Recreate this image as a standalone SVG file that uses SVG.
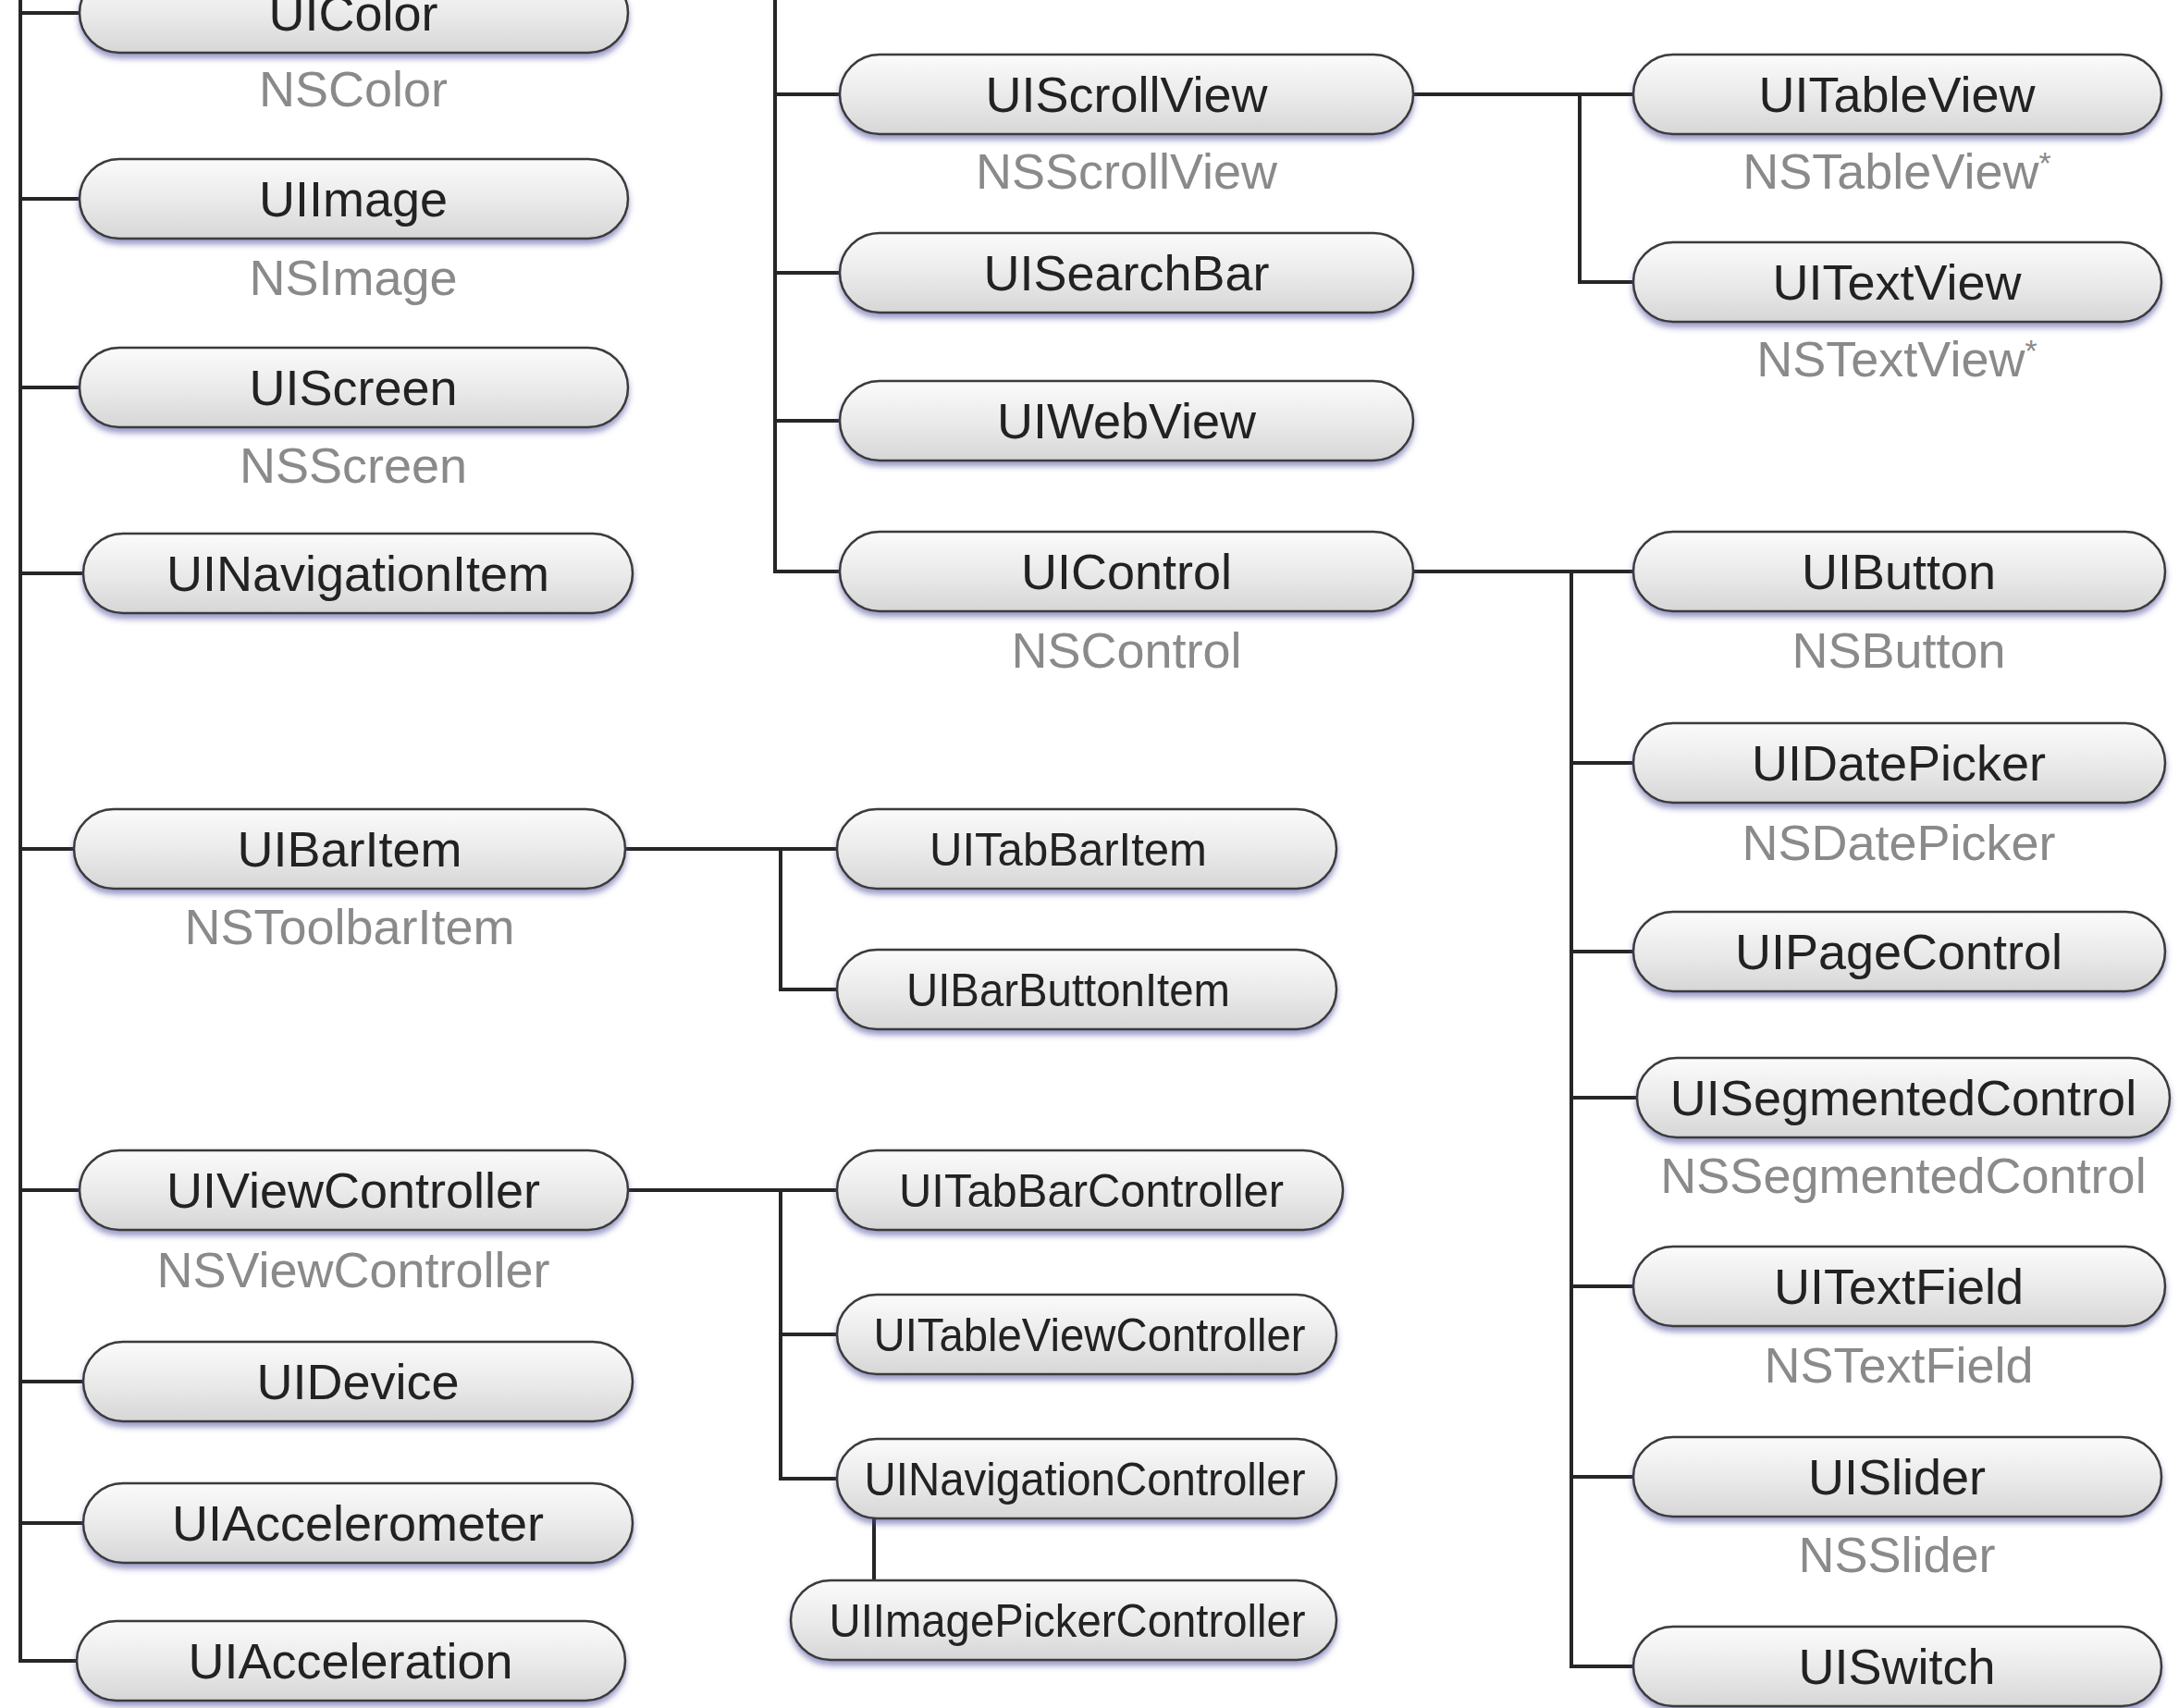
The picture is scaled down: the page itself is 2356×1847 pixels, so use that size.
<svg xmlns="http://www.w3.org/2000/svg" width="2356" height="1847" viewBox="0 0 2356 1847">
  <defs>
    <linearGradient id="pillFill" x1="0" y1="0" x2="0" y2="1">
      <stop offset="0" stop-color="#fbfbfb"/>
      <stop offset="0.55" stop-color="#e9e9e9"/>
      <stop offset="1" stop-color="#d6d6d6"/>
    </linearGradient>
    <filter id="pillShadow" x="-5%" y="-20%" width="110%" height="150%">
      <feDropShadow dx="0" dy="5" stdDeviation="3" flood-color="#4a4a9a" flood-opacity="0.55"/>
    </filter>
    <style>
      .pill { fill: url(#pillFill); stroke: #3a3a3a; stroke-width: 2.5; filter: url(#pillShadow); }
      .name { font-family: "Liberation Sans", Arial, Helvetica, sans-serif; font-size: 54px; fill: #222222; text-anchor: middle; }
      .small { font-size: 50px; }
      .ns { font-family: "Liberation Sans", Arial, Helvetica, sans-serif; font-size: 54px; fill: #8a8a8a; text-anchor: middle; }
      .star { font-size: 34px; }
      .link { fill: none; stroke: #262626; stroke-width: 4; }
    </style>
  </defs>

  <rect width="2356" height="1847" fill="#ffffff"/>

  <!-- inheritance connectors -->
  <g id="connectors" class="link">
    <path d="M22,0 V1796 H83"/>
    <path d="M22,14 H86"/>
    <path d="M22,215 H86"/>
    <path d="M22,419 H86"/>
    <path d="M22,620 H90"/>
    <path d="M22,918 H80"/>
    <path d="M22,1287 H86"/>
    <path d="M22,1494 H90"/>
    <path d="M22,1647 H90"/>

    <path d="M838,0 V618 H908"/>
    <path d="M838,102 H908"/>
    <path d="M838,295 H908"/>
    <path d="M838,455 H908"/>

    <path d="M1528,102 H1766"/>
    <path d="M1708,102 V305 H1766"/>

    <path d="M1528,618 H1766"/>
    <path d="M1699,618 V1802 H1766"/>
    <path d="M1699,825 H1766"/>
    <path d="M1699,1029 H1766"/>
    <path d="M1699,1187 H1770"/>
    <path d="M1699,1391 H1766"/>
    <path d="M1699,1597 H1766"/>

    <path d="M676,918 H905"/>
    <path d="M844,918 V1070 H905"/>

    <path d="M679,1287 H905"/>
    <path d="M844,1287 V1599 H905"/>
    <path d="M844,1443 H905"/>
    <path d="M945,1642 V1709"/>
  </g>

  <!-- left column -->
  <g id="UIColor">
    <rect class="pill" x="86" y="-29" width="593" height="86" rx="43"/>
    <text class="name" x="382" y="33">UIColor</text>
    <text class="ns" x="382" y="115">NSColor</text>
  </g>
  <g id="UIImage">
    <rect class="pill" x="86" y="172" width="593" height="86" rx="43"/>
    <text class="name" x="382" y="234">UIImage</text>
    <text class="ns" x="382" y="319">NSImage</text>
  </g>
  <g id="UIScreen">
    <rect class="pill" x="86" y="376" width="593" height="86" rx="43"/>
    <text class="name" x="382" y="438">UIScreen</text>
    <text class="ns" x="382" y="522">NSScreen</text>
  </g>
  <g id="UINavigationItem">
    <rect class="pill" x="90" y="577" width="594" height="86" rx="43"/>
    <text class="name" x="387" y="639">UINavigationItem</text>
  </g>
  <g id="UIBarItem">
    <rect class="pill" x="80" y="875" width="596" height="86" rx="43"/>
    <text class="name" x="378" y="937">UIBarItem</text>
    <text class="ns" x="378" y="1021">NSToolbarItem</text>
  </g>
  <g id="UIViewController">
    <rect class="pill" x="86" y="1244" width="593" height="86" rx="43"/>
    <text class="name" x="382" y="1306">UIViewController</text>
    <text class="ns" x="382" y="1392">NSViewController</text>
  </g>
  <g id="UIDevice">
    <rect class="pill" x="90" y="1451" width="594" height="86" rx="43"/>
    <text class="name" x="387" y="1513">UIDevice</text>
  </g>
  <g id="UIAccelerometer">
    <rect class="pill" x="90" y="1604" width="594" height="86" rx="43"/>
    <text class="name" x="387" y="1666">UIAccelerometer</text>
  </g>
  <g id="UIAcceleration">
    <rect class="pill" x="83" y="1753" width="593" height="86" rx="43"/>
    <text class="name" x="379" y="1815">UIAcceleration</text>
  </g>

  <!-- view subclasses -->
  <g id="UIScrollView">
    <rect class="pill" x="908" y="59" width="620" height="86" rx="43"/>
    <text class="name" x="1218" y="121">UIScrollView</text>
    <text class="ns" x="1218" y="204">NSScrollView</text>
  </g>
  <g id="UISearchBar">
    <rect class="pill" x="908" y="252" width="620" height="86" rx="43"/>
    <text class="name" x="1218" y="314">UISearchBar</text>
  </g>
  <g id="UIWebView">
    <rect class="pill" x="908" y="412" width="620" height="86" rx="43"/>
    <text class="name" x="1218" y="474">UIWebView</text>
  </g>
  <g id="UIControl">
    <rect class="pill" x="908" y="575" width="620" height="86" rx="43"/>
    <text class="name" x="1218" y="637">UIControl</text>
    <text class="ns" x="1218" y="722">NSControl</text>
  </g>

  <!-- scroll view subclasses -->
  <g id="UITableView">
    <rect class="pill" x="1766" y="59" width="571" height="86" rx="43"/>
    <text class="name" x="2051" y="121">UITableView</text>
    <text class="ns" x="2051" y="204">NSTableView<tspan class="star" dy="-16">*</tspan></text>
  </g>
  <g id="UITextView">
    <rect class="pill" x="1766" y="262" width="571" height="86" rx="43"/>
    <text class="name" x="2051" y="324">UITextView</text>
    <text class="ns" x="2051" y="407">NSTextView<tspan class="star" dy="-16">*</tspan></text>
  </g>

  <!-- control subclasses -->
  <g id="UIButton">
    <rect class="pill" x="1766" y="575" width="575" height="86" rx="43"/>
    <text class="name" x="2053" y="637">UIButton</text>
    <text class="ns" x="2053" y="722">NSButton</text>
  </g>
  <g id="UIDatePicker">
    <rect class="pill" x="1766" y="782" width="575" height="86" rx="43"/>
    <text class="name" x="2053" y="844">UIDatePicker</text>
    <text class="ns" x="2053" y="930">NSDatePicker</text>
  </g>
  <g id="UIPageControl">
    <rect class="pill" x="1766" y="986" width="575" height="86" rx="43"/>
    <text class="name" x="2053" y="1048">UIPageControl</text>
  </g>
  <g id="UISegmentedControl">
    <rect class="pill" x="1770" y="1144" width="576" height="86" rx="43"/>
    <text class="name" x="2058" y="1206">UISegmentedControl</text>
    <text class="ns" x="2058" y="1290">NSSegmentedControl</text>
  </g>
  <g id="UITextField">
    <rect class="pill" x="1766" y="1348" width="575" height="86" rx="43"/>
    <text class="name" x="2053" y="1410">UITextField</text>
    <text class="ns" x="2053" y="1495">NSTextField</text>
  </g>
  <g id="UISlider">
    <rect class="pill" x="1766" y="1554" width="571" height="86" rx="43"/>
    <text class="name" x="2051" y="1616">UISlider</text>
    <text class="ns" x="2051" y="1700">NSSlider</text>
  </g>
  <g id="UISwitch">
    <rect class="pill" x="1766" y="1759" width="571" height="86" rx="43"/>
    <text class="name" x="2051" y="1821">UISwitch</text>
  </g>

  <!-- bar item subclasses -->
  <g id="UITabBarItem">
    <rect class="pill" x="905" y="875" width="540" height="86" rx="43"/>
    <text class="name small" x="1155" y="936" textLength="300" lengthAdjust="spacingAndGlyphs">UITabBarItem</text>
  </g>
  <g id="UIBarButtonItem">
    <rect class="pill" x="905" y="1027" width="540" height="86" rx="43"/>
    <text class="name small" x="1155" y="1088" textLength="350" lengthAdjust="spacingAndGlyphs">UIBarButtonItem</text>
  </g>

  <!-- view controller subclasses -->
  <g id="UITabBarController">
    <rect class="pill" x="905" y="1244" width="547" height="86" rx="43"/>
    <text class="name small" x="1180" y="1305" textLength="416" lengthAdjust="spacingAndGlyphs">UITabBarController</text>
  </g>
  <g id="UITableViewController">
    <rect class="pill" x="905" y="1400" width="540" height="86" rx="43"/>
    <text class="name small" x="1178" y="1461" textLength="467" lengthAdjust="spacingAndGlyphs">UITableViewController</text>
  </g>
  <g id="UINavigationController">
    <rect class="pill" x="905" y="1556" width="540" height="86" rx="43"/>
    <text class="name small" x="1173" y="1617" textLength="477" lengthAdjust="spacingAndGlyphs">UINavigationController</text>
  </g>
  <g id="UIImagePickerController">
    <rect class="pill" x="855" y="1709" width="590" height="86" rx="43"/>
    <text class="name small" x="1154" y="1770" textLength="515" lengthAdjust="spacingAndGlyphs">UIImagePickerController</text>
  </g>
</svg>
